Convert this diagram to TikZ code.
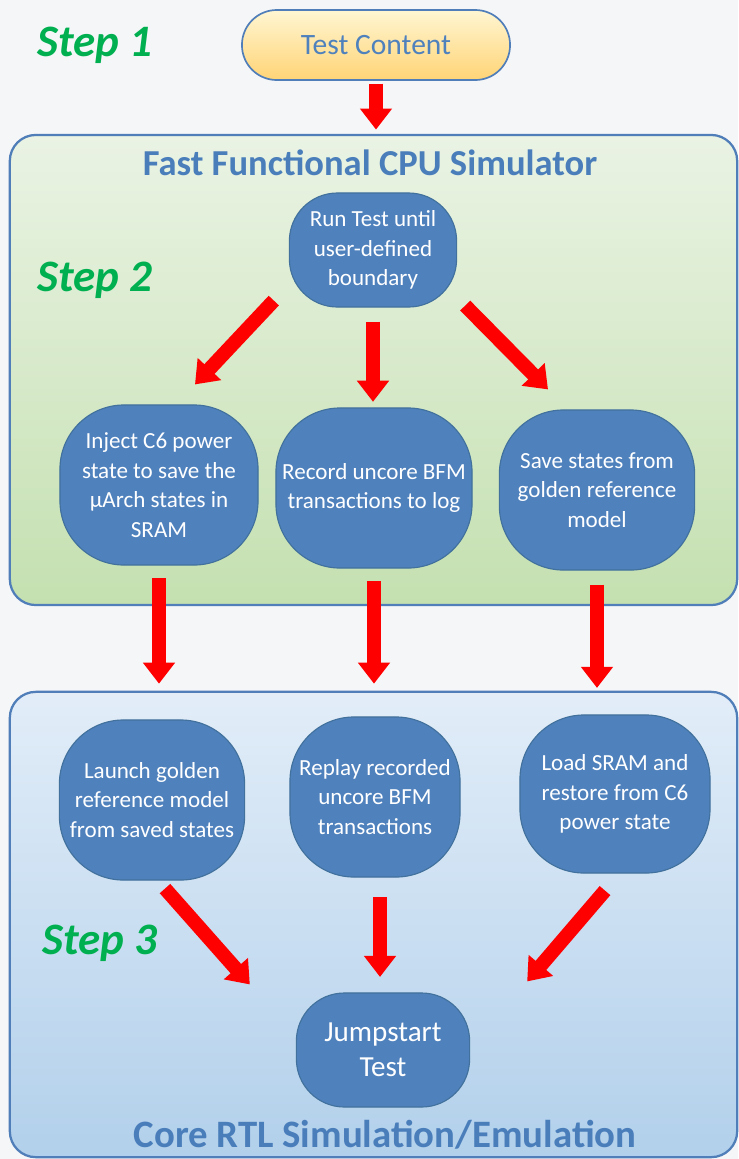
\documentclass[tikz,border=0pt]{standalone}
\usepackage{fontspec}
\setmainfont{Carlito}
\usetikzlibrary{arrows.meta,calc}
\definecolor{bgcol}{RGB}{245,246,248}
\definecolor{nodeblue}{RGB}{79,129,189}
\definecolor{nodeedge}{RGB}{65,113,156}
\definecolor{boxedge}{RGB}{80,126,185}
\definecolor{titleblue}{RGB}{74,126,187}
\definecolor{stepgreen}{RGB}{0,176,80}
\definecolor{greentop}{RGB}{234,243,228}
\definecolor{greenbot}{RGB}{196,224,176}
\definecolor{bluetop}{RGB}{226,237,248}
\definecolor{bluebot}{RGB}{178,208,235}
\definecolor{yellowtop}{RGB}{255,246,210}
\definecolor{yellowbot}{RGB}{255,212,118}
\begin{document}
\begin{tikzpicture}[x=0.025cm,y=-0.025cm,
    container/.style={draw=boxedge,line width=1.6pt,rounded corners=0.65cm},
    procbox/.style={draw=nodeedge,line width=0.8pt,fill=nodeblue,text=white,rounded corners=1.6cm,
        align=center,inner sep=0pt,font=\fontsize{16.4}{21}\selectfont},
    steplabel/.style={text=stepgreen,font=\fontsize{32}{38}\selectfont\bfseries\itshape},
    boxtitle/.style={text=titleblue,font=\fontsize{26}{30}\selectfont\bfseries},
    fatarrow/.style={red,line width=10pt,-{Triangle[width=22pt,length=15pt]}}]
  \fill[bgcol] (0,0) rectangle (738,1159);
  \useasboundingbox (0,0) rectangle (738,1159);
  % containers
  \node[container,top color=greentop,bottom color=greenbot,minimum width=18.18cm,minimum height=11.75cm] (fastbox) at (373.5,370) {};
  \node[container,top color=bluetop,bottom color=bluebot,minimum width=18.18cm,minimum height=11.63cm] (corebox) at (373.5,924.5) {};
  \node[boxtitle] (fasttitle) at (370,163) {Fast Functional CPU Simulator};
  \node[boxtitle,font=\fontsize{27.6}{32}\selectfont\bfseries,inner sep=1pt] (coretitle) at (385,1135) {Core RTL Simulation/Emulation};
  % step labels
  \node[steplabel] (step1) at (95,45) {Step 1};
  \node[steplabel] (step2) at (95,280) {Step 2};
  \node[steplabel] (step3) at (100,943) {Step 3};
  % nodes
  \node[draw=boxedge,line width=1.2pt,top color=yellowtop,bottom color=yellowbot,rounded corners=0.87cm,
        minimum width=6.7cm,minimum height=1.75cm,text=nodeblue,font=\fontsize{21}{25}\selectfont] (test) at (376,45) {Test Content};
  \node[procbox,minimum width=4.18cm,minimum height=2.85cm,rounded corners=1.2cm] (run) at (373,250) {Run Test until\\user-defined\\boundary};
  \node[procbox,minimum width=4.95cm,minimum height=4cm] (inject) at (159,485) {Inject C6 power\\state to save the\\µArch states in\\SRAM};
  \node[procbox,minimum width=4.9cm,minimum height=4cm] (record) at (374,488) {Record uncore BFM\\transactions to log};
  \node[procbox,minimum width=4.88cm,minimum height=4cm] (save) at (597,490) {Save states from\\golden reference\\model};
  \node[procbox,minimum width=4.63cm,minimum height=4cm] (launch) at (152,800) {Launch golden\\reference model\\from saved states};
  \node[procbox,minimum width=4.25cm,minimum height=4cm] (replay) at (375,797) {Replay recorded\\uncore BFM\\transactions};
  \node[procbox,minimum width=4.75cm,minimum height=3.95cm] (load) at (615,794) {Load SRAM and\\restore from C6\\power state};
  \node[procbox,minimum width=4.33cm,minimum height=2.85cm,rounded corners=1.2cm,font=\fontsize{20.7}{25}\selectfont] (jump) at (383,1050) {Jumpstart\\Test};
  \coordinate (replaybot) at ($(replay.south)+(5,0)$);
  % arrows
  \draw[fatarrow,shorten <=2pt,shorten >=3pt] (test.south) -- (test.south |- fastbox.north);
  \draw[fatarrow] ($(run.south west)+(-15,-7)$) -- ($(inject.north)+(36,-20)$);
  \draw[fatarrow,shorten <=10pt,shorten >=4pt] (run.south) -- (run.south |- record.north);
  \draw[fatarrow] ($(run.south east)+(8,-2)$) -- ($(save.north)+(-49,-20)$);
  \draw[fatarrow,shorten <=9pt,shorten >=5pt] (inject.south) -- (inject.south |- corebox.north);
  \draw[fatarrow,shorten <=9pt,shorten >=5pt] (record.south) -- (record.south |- corebox.north);
  \draw[fatarrow,shorten <=10pt,shorten >=2pt] (save.south) -- (save.south |- corebox.north);
  \draw[fatarrow] ($(launch.south)+(13,8)$) -- ($(jump.north west)+(-46,-8)$);
  \draw[fatarrow,shorten <=14pt,shorten >=11pt] (replaybot) -- (replaybot |- jump.north);
  \draw[fatarrow] ($(load.south)+(-10,17)$) -- ($(jump.north east)+(57,-11)$);
\end{tikzpicture}
\end{document}
